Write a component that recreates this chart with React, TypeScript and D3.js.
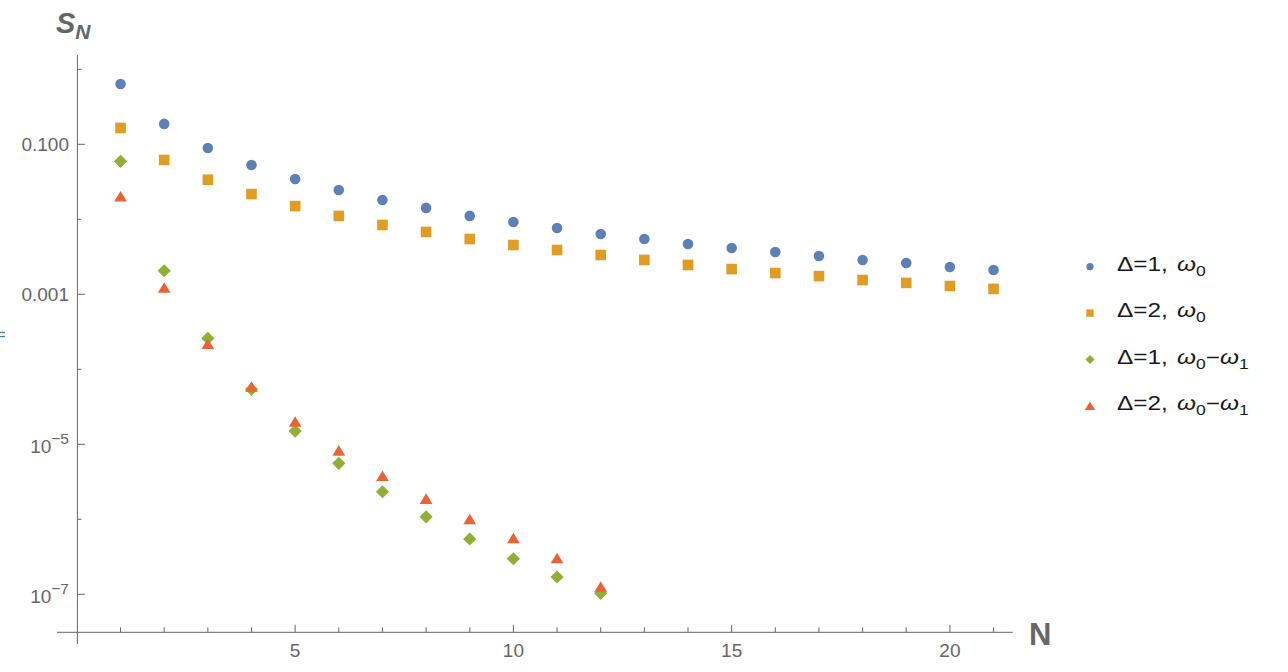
import * as d3 from 'd3';

// N = 1..21 (first two series), N = 1..12 (last two series)
const nFull = d3.range(1, 22);
const nShort = d3.range(1, 13);

const d1w0 = [0.637, 0.187, 0.0893, 0.053, 0.0344, 0.0246, 0.0181, 0.0142, 0.0111, 0.0092, 0.00766,
  0.00637, 0.00546, 0.00469, 0.00414, 0.00366, 0.00324, 0.00287, 0.00261, 0.00231, 0.00211];
const d2w0 = [0.165, 0.0618, 0.0337, 0.0217, 0.015, 0.0111, 0.0084, 0.00678, 0.00546, 0.00454, 0.0039,
  0.00334, 0.00287, 0.00246, 0.00217, 0.00192, 0.00175, 0.00155, 0.00142, 0.00129, 0.00118];
const d1w01 = [0.0593, 0.00206, 2.59e-4, 5.41e-5, 1.5e-5, 5.58e-6, 2.33e-6, 1.08e-6, 5.46e-7, 2.98e-7,
  1.7e-7, 1.03e-7];
const d2w01 = [0.0201, 0.00122, 2.17e-4, 5.86e-5, 2.0e-5, 8.22e-6, 3.78e-6, 1.87e-6, 1.0e-6, 5.58e-7,
  3.02e-7, 1.26e-7];

const yMajorTicks = [0.1, 0.001, 1e-5, 1e-7];
const yMinorTicks = [1, 0.01, 1e-4, 1e-6];
const xMajorTicks = [5, 10, 15, 20];
const xMinorTicks = d3.range(1, 22).filter(n => n % 5 !== 0);
const legendLabels = ['1', '2', '1', '2'];

const BLUE = '#5E81B5';
const ORANGE = '#E19C24';
const GREEN = '#8FB032';
const RED = '#EB6235';
const AXIS = '#666666';
const FONT = '"Liberation Sans", Arial, sans-serif';

const x = d3.scaleLinear().domain([0, 21]).range([76.9, 76.9 + 21 * 43.65]);
const y = d3.scaleLog().domain([0.1, 1e-7]).range([144.3, 594.3]);

const axisY = 632.3;
const axisX = x(0) + 0.5;

function markerPath(shape: string, s: number) {
  if (shape === 'circle') return d3.symbol(d3.symbolCircle, Math.PI * s * s)();
  if (shape === 'square') return `M${-s},${-s}H${s}V${s}H${-s}Z`;
  if (shape === 'diamond') return `M0,${-s}L${s},0L0,${s}L${-s},0Z`;
  // triangle
  return `M0,${-s * 1.05}L${s * 1.2},${s * 0.95}L${-s * 1.2},${s * 0.95}Z`;
}

const series = [
  { n: nFull, v: d1w0, color: BLUE, shape: 'circle', size: 5.3, legSize: 3.6, two: false },
  { n: nFull, v: d2w0, color: ORANGE, shape: 'square', size: 5.3, legSize: 3.7, two: false },
  { n: nShort, v: d1w01, color: GREEN, shape: 'diamond', size: 6.6, legSize: 4.6, two: true },
  { n: nShort, v: d2w01, color: RED, shape: 'triangle', size: 5.3, legSize: 4.3, two: true },
];

function YLabel({ v }: { v: number }) {
  const yy = y(v);
  if (v >= 0.001) {
    return (
      <text x={69} y={yy + 6.8} textAnchor="end" fontSize={19} fill={AXIS} fontFamily={FONT}>
        {v === 0.1 ? '0.100' : '0.001'}
      </text>
    );
  }
  const exp = Math.round(Math.log10(v));
  return (
    <text x={69} y={yy + 8.5} textAnchor="end" fontSize={19} fill={AXIS} fontFamily={FONT}>
      10<tspan dy={-8.5} fontSize={15.5}>{'\u2212' + Math.abs(exp)}</tspan>
    </text>
  );
}

export default function App() {
  return (
    <svg width={1288} height={672} style={{ position: 'absolute', left: 0, top: 0, background: '#fff' }}>
      <rect width={1288} height={672} fill="#fff" />

      {/* stray mark at left edge */}
      <line x1={0} x2={5} y1={332.5} y2={332.5} stroke="#4a7ba6" strokeWidth={1.3} />
      <line x1={0} x2={5} y1={336.5} y2={336.5} stroke="#4a7ba6" strokeWidth={1.3} />

      {/* axes */}
      <line x1={axisX} x2={axisX} y1={55} y2={644} stroke={AXIS} strokeWidth={1} />
      <line x1={57} x2={1012.7} y1={axisY} y2={axisY} stroke={AXIS} strokeWidth={1} />

      {yMajorTicks.map(t => (
        <line key={'ym' + t} x1={axisX} x2={axisX + 7.5} y1={y(t)} y2={y(t)} stroke={AXIS} />
      ))}
      {yMinorTicks.map(t => (
        <line key={'yn' + t} x1={axisX} x2={axisX + 4} y1={y(t)} y2={y(t)} stroke={AXIS} />
      ))}
      {yMajorTicks.map(t => <YLabel key={'yl' + t} v={t} />)}

      {xMajorTicks.map(t => (
        <line key={'xm' + t} x1={x(t)} x2={x(t)} y1={axisY} y2={axisY - 7.5} stroke={AXIS} />
      ))}
      {xMinorTicks.map(t => (
        <line key={'xn' + t} x1={x(t)} x2={x(t)} y1={axisY} y2={axisY - 5} stroke={AXIS} />
      ))}
      {xMajorTicks.map(t => (
        <text key={'xl' + t} x={x(t)} y={657} textAnchor="middle" fontSize={19} fill={AXIS} fontFamily={FONT}>
          {t}
        </text>
      ))}

      {/* axis labels */}
      <text x={56} y={33} fontSize={29} fontWeight="bold" fontStyle="italic" fill={AXIS} fontFamily={FONT}>
        S<tspan dy={6} fontSize={21}>N</tspan>
      </text>
      <text x={1029} y={645} fontSize={31} fontWeight="bold" fill={AXIS} fontFamily={FONT}>N</text>

      {/* points */}
      {series.map((s, si) => (
        <g key={'s' + si} fill={s.color}>
          {s.v.map((v, i) => (
            <path key={i} transform={`translate(${x(s.n[i])},${y(v)})`} d={markerPath(s.shape, s.size) as string} />
          ))}
        </g>
      ))}

      {/* legend */}
      {series.map((s, si) => {
        const base = 270.7 + si * 46.4;
        return (
          <g key={'l' + si}>
            <path transform={`translate(1090,${base - 4})`} d={markerPath(s.shape, s.legSize) as string} fill={s.color} />
            <text transform={`translate(1117,${base}) scale(1.25,1)`} fontSize={19.5} fill="#1a1a1a" fontFamily={FONT}>
              {'\u0394=' + legendLabels[si] + ', '}
              <tspan dx={2} fontStyle="italic">ω</tspan>
              <tspan dy={5} fontSize={14}>0</tspan>
              {s.two && (
                <>
                  <tspan dy={-5}>{'\u2212'}</tspan>
                  <tspan fontStyle="italic">ω</tspan>
                  <tspan dy={5} fontSize={14}>1</tspan>
                </>
              )}
            </text>
          </g>
        );
      })}
    </svg>
  );
}
